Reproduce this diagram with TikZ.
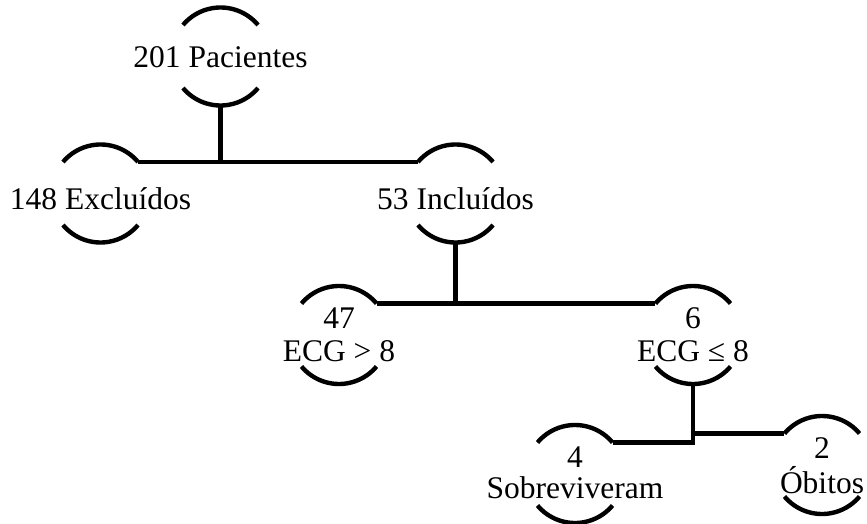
\documentclass[tikz,border=0pt]{standalone}
\usepackage{fontspec}
\setmainfont{Liberation Serif}
\begin{document}
\begin{tikzpicture}[x=1pt,y=1pt,
  ring/.style={circle,draw=none,inner sep=0pt,outer sep=0pt,minimum size=98pt},
  lbl/.style={inner sep=0pt,anchor=base,font=\fontsize{31.5}{36}\selectfont},
  ln/.style={line width=4.4pt,black}]
\useasboundingbox (0,0) rectangle (867,-524);
% ring placeholders
\node[ring] (A) at (220.5,-56.5) {};
\node[ring] (B) at (100.5,-193.5) {};
\node[ring] (C) at (455.5,-193.5) {};
\node[ring] (D) at (339,-335) {};
\node[ring] (E) at (693,-335) {};
\node[ring] (F) at (575,-474) {};
\node[ring] (G) at (822,-465) {};
% arcs
\foreach \n in {A,B,C,D,E,F,G}{
  \draw[ln] (\n.40) arc[start angle=40,end angle=140,radius=49pt];
  \draw[ln] (\n.220) arc[start angle=220,end angle=320,radius=49pt];
}
% labels
\node[lbl] (At) at (220.5,-68) {201 Pacientes};
\node[lbl] (Bt) at (100.5,-209) {148 Excluídos};
\node[lbl] (Ct) at (455.5,-209) {53 Incluídos};
\node[lbl] (Dt1) at (339,-328) {47};
\node[lbl] (Dt2) at (339,-361) {ECG > 8};
\node[lbl] (Et1) at (693,-328) {6};
\node[lbl] (Et2) at (693,-361) {ECG ≤ 8};
\node[lbl] (Ft1) at (575,-467) {4};
\node[lbl] (Ft2) at (575,-498) {Sobreviveram};
\node[lbl] (Gt1) at (822,-458) {2};
\node[lbl] (Gt2) at (822,-493) {Óbitos};
% connectors
\draw[ln] (B.40) -- (C.140);
\draw[ln] (A.south) -- (A.south |- B.40);
\draw[ln] (D.40) -- (E.140);
\draw[ln] (C.south) -- (C.south |- D.40);
\coordinate (EF) at (E.south |- F.40);
\coordinate (EG) at (E.south |- G.140);
\draw[ln] (E.south) -- (EF);
\draw[ln] (F.40) -- ([xshift=2.2pt]EF);
\draw[ln] ([xshift=-2.2pt]EG) -- (G.140);
\end{tikzpicture}
\end{document}
